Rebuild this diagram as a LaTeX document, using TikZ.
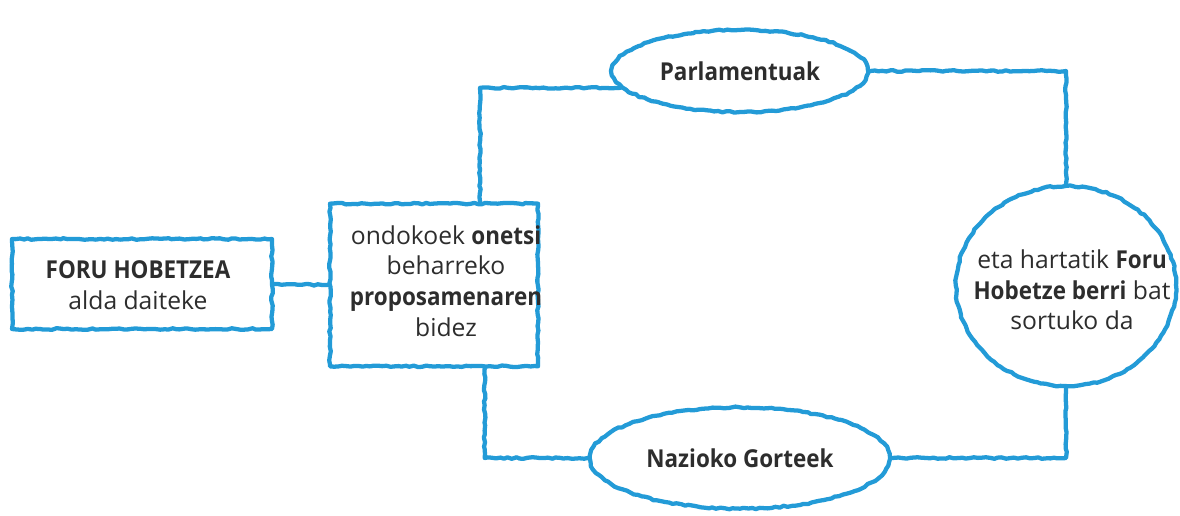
\documentclass[tikz,border=0pt]{standalone}
\usepackage{fontspec}
\setmainfont{Open Sans}[BoldFeatures={FakeStretch=0.91}]
\usetikzlibrary{shapes.geometric}
\usetikzlibrary{decorations.pathmorphing}
\definecolor{crayon}{RGB}{35,155,215}
\definecolor{inktext}{RGB}{45,45,45}

\begin{document}
\begin{tikzpicture}[x=0.75pt,y=0.75pt,yscale=-1,xscale=1,
  crayon line/.style={draw=crayon, line width=3.2pt, line join=round, line cap=round,
    decorate, decoration={random steps,segment length=3pt,amplitude=0.6pt}},
  box/.style={crayon line, rectangle, inner sep=0pt, text=inktext, align=center},
  blob/.style={crayon line, ellipse, inner sep=0pt, text=inktext, align=center},
  words/.style={text=inktext, align=center, inner sep=0pt},
  font=\fontsize{18.5}{23}\selectfont]
%set diagram size to 1180 x 515
\useasboundingbox (0,0) rectangle (1180,515);

%Shape: Rectangle [id:fhb]
\node[box, minimum width=195pt, minimum height=67.5pt] (fhb) at (142,284) {};
% Text Node
\node[words] (fhbt) at (138,285) {{\bfseries FORU HOBETZEA}\\alda daiteke};
%Shape: Rectangle [id:prop]
\node[box, minimum width=156pt, minimum height=122pt] (prop) at (434,285) {};
% Text Node
\node[words] (propt) at (446,281)
  {ondokoek \textbf{onetsi}\\beharreko\\\textbf{proposamenaren}\\bidez};
%Shape: Ellipse [id:parl]
\node[blob, minimum width=192pt, minimum height=61.5pt, font=\fontsize{18.5}{23}\selectfont\bfseries] (parl) at (740,71) {Parlamentuak};
%Shape: Ellipse [id:naz]
\node[blob, minimum width=225pt, minimum height=76pt, font=\fontsize{18.5}{23}\selectfont\bfseries] (naz) at (740,458) {Nazioko Gorteek};
%Shape: Circle [id:hob]
\node[blob, minimum width=165pt, minimum height=150pt] (hob) at (1066,286) {};
% Text Node
\node[words] (hobt) at (1072,290) {eta hartatik \textbf{Foru}\\\textbf{Hobetze berri} bat\\sortuko da};

%Straight Lines
\draw[crayon line] (fhb.east) -- (prop.west);
\draw[crayon line] ([xshift=34.5pt]prop.north) |- (parl.188);
\draw[crayon line] (parl.east) -| (hob.north);
\draw[crayon line] (hob.south) |- (naz.east);
\draw[crayon line] (naz.west) -| ([xshift=38pt]prop.south);

\end{tikzpicture}
\end{document}
